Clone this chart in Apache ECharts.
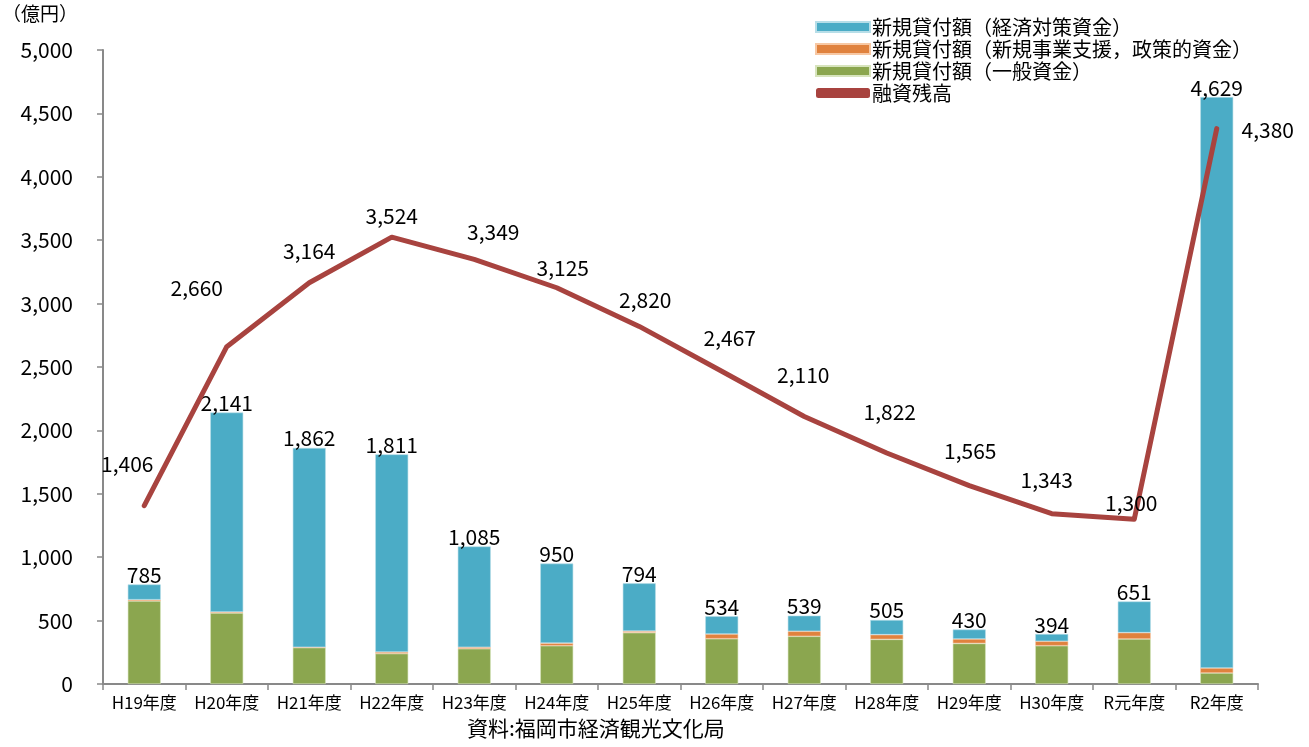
<!DOCTYPE html>
<html><head><meta charset="utf-8">
<script src="https://cdn.jsdelivr.net/npm/echarts@6/dist/echarts.min.js"></script>
<style>html,body{margin:0;padding:0;background:#fff}#c{width:1309px;height:747px}</style>
</head><body><div id="c"></div>
<script>
const categories = ['H19年度','H20年度','H21年度','H22年度','H23年度','H24年度','H25年度','H26年度','H27年度','H28年度','H29年度','H30年度','R元年度','R2年度'];
const generalFunds = [655, 560, 287, 240, 278, 302, 405, 357, 376, 352, 320, 302, 355, 87];
const newBizFunds = [10, 8, 3, 12, 12, 20, 12, 37, 40, 37, 35, 35, 50, 39];
const economicFunds = [120, 1573, 1572, 1559, 795, 628, 377, 140, 123, 116, 75, 57, 246, 4503];
const totals = [785, 2141, 1862, 1811, 1085, 950, 794, 534, 539, 505, 430, 394, 651, 4629];
const balance = [1406, 2660, 3164, 3524, 3349, 3125, 2820, 2467, 2110, 1822, 1565, 1343, 1300, 4380];
const yTicks = [0, 500, 1000, 1500, 2000, 2500, 3000, 3500, 4000, 4500, 5000];
const lineLabelOffsets = [[-17,-42],[-30,-59],[0,-32],[0,-21],[19,-27],[6,-20],[6,-26],[8,-33],[-1,-41],[3,-41],[1,-35],[-5,-34],[-3,-16],[51,1]];

const FONT = '"Noto Sans CJK JP", "Noto Sans", sans-serif';
const fmt = v => v.toLocaleString('en-US');
const chart = echarts.init(document.getElementById('c'));
chart.setOption({
  animation: false,
  textStyle: { fontFamily: FONT, color: '#000' },
  grid: { left: 103, right: 51, top: 50, bottom: 63, containLabel: false },
  legend: {
    orient: 'vertical', left: 810, top: 11, itemWidth: 54, itemHeight: 10, itemGap: 0,
    textStyle: { fontSize: 20, color: '#000', lineHeight: 22, fontFamily: FONT, padding: [0,0,0,-3] },
    data: [
      { name: '新規貸付額（経済対策資金）', icon: 'rect' },
      { name: '新規貸付額（新規事業支援，政策的資金）', icon: 'rect' },
      { name: '新規貸付額（一般資金）', icon: 'rect' },
      { name: '融資残高', icon: 'roundRect' }
    ]
  },
  graphic: [
    { type: 'text', left: 2, top: 4, style: { text: '（億円）', font: '19px ' + FONT, fill: '#000' } },
    { type: 'text', left: 467, top: 718, style: { text: '資料:福岡市経済観光文化局', font: '21px ' + FONT, fill: '#000' } }
  ],
  xAxis: {
    type: 'category', data: categories, boundaryGap: true,
    axisLine: { lineStyle: { color: '#898989', width: 2 } },
    axisTick: { show: true, length: 6, lineStyle: { color: '#898989', width: 1.5 } },
    axisLabel: { fontSize: 17, color: '#000', margin: 10, interval: 0 }
  },
  yAxis: {
    type: 'value', min: 0, max: 5000, interval: 500,
    axisLine: { show: true, lineStyle: { color: '#898989', width: 2 } },
    axisTick: { show: true, length: 6, lineStyle: { color: '#898989', width: 1.5 } },
    splitLine: { show: false },
    axisLabel: { fontSize: 21, color: '#000', margin: 30, formatter: v => yTicks.includes(v) ? fmt(v) : '' }
  },
  series: [
    { name: '新規貸付額（一般資金）', type: 'bar', stack: 'a', barWidth: '40%', data: generalFunds,
      itemStyle: { color: '#8BA64F', borderColor: '#D7E4BD', borderWidth: 0.6 } },
    { name: '新規貸付額（新規事業支援，政策的資金）', type: 'bar', stack: 'a', data: newBizFunds,
      itemStyle: { color: '#E0823E', borderColor: '#F7C8A4', borderWidth: 0.6 } },
    { name: '新規貸付額（経済対策資金）', type: 'bar', stack: 'a', data: economicFunds,
      itemStyle: { color: '#4BACC6', borderColor: '#B7DEE8', borderWidth: 0.6 },
      label: { show: true, position: 'top', distance: -1, fontSize: 21, color: '#000', fontFamily: FONT,
        formatter: p => fmt(totals[p.dataIndex]) } },
    { name: '融資残高', type: 'line', data: balance.map((v, i) => ({ value: v, label: { offset: lineLabelOffsets[i] } })),
      symbol: 'circle', symbolSize: 1, showSymbol: true, z: 5,
      lineStyle: { color: '#A8433F', width: 5, cap: 'round', join: 'round' },
      itemStyle: { color: '#A8433F' },
      label: { show: true, position: 'inside', fontSize: 21, color: '#000', fontFamily: FONT,
        formatter: p => fmt(p.value) } }
  ]
});
</script>
</body></html>
